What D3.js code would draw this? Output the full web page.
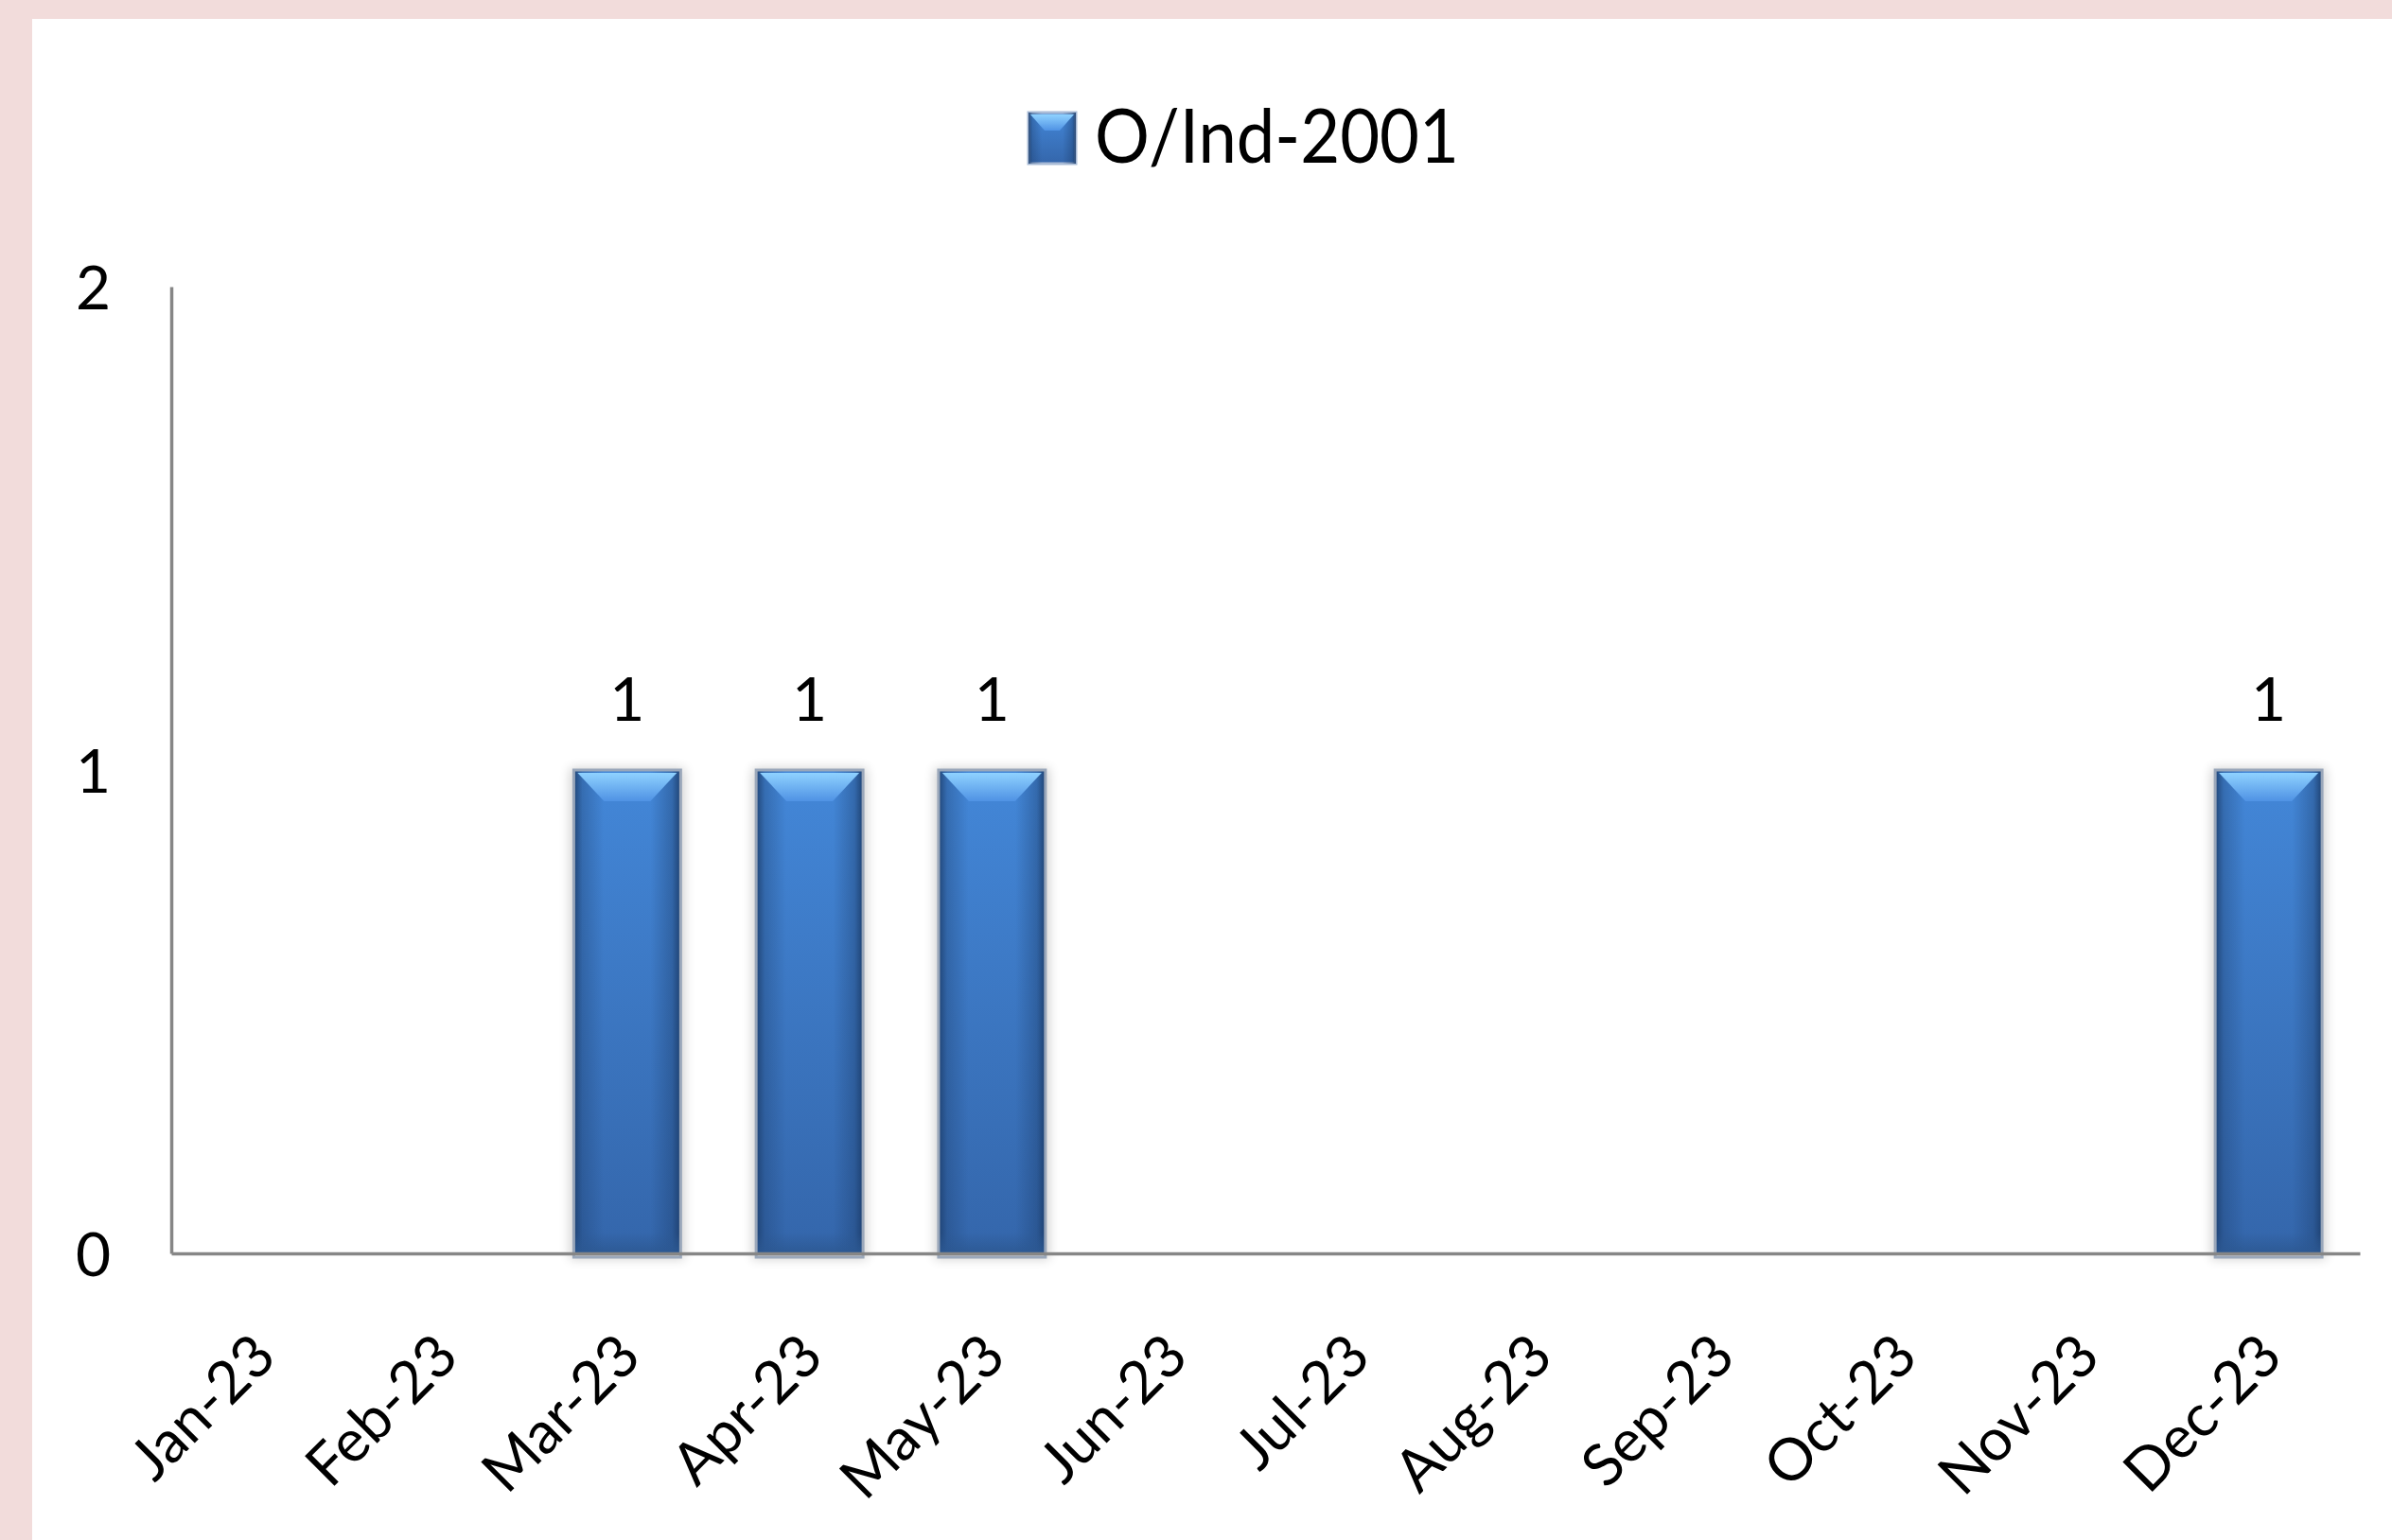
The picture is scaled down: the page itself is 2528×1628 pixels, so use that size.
<!DOCTYPE html>
<html lang="en">
<head>
<meta charset="UTF-8">
<title>O/Ind-2001</title>
<script src="https://d3js.org/d3.v7.min.js"></script>
<style>
    body { margin: 0; background: #f2dcdb; }
    #chart_area { position: absolute; left: 0; top: 0; }
    text { font-family: Lato, "Open Sans", sans-serif; fill: #000; }
</style>
</head>
<body>
<div id="chart_area"></div>
<script>
    // chart data
    const months = ["Jan-23","Feb-23","Mar-23","Apr-23","May-23","Jun-23","Jul-23","Aug-23","Sep-23","Oct-23","Nov-23","Dec-23"];
    const counts = [0, 0, 1, 1, 1, 0, 0, 0, 0, 0, 0, 1];
    const yTicks = [0, 1, 2];
    const seriesName = "O/Ind-2001";

    const W = 2528, H = 1628;
    const plotL = 181, plotR = 2494, plotT = 303, plotB = 1325;

    const data = months.map(function(m, i) { return {month: m, value: counts[i]}; });

    var svg = d3.select("#chart_area").append("svg")
        .attr("width", W).attr("height", H);

    var defs = svg.append("defs");

    var g1 = defs.append("linearGradient").attr("id", "bodyV").attr("x1", 0).attr("y1", 0).attr("x2", 0).attr("y2", 1);
    g1.append("stop").attr("offset", "0%").attr("stop-color", "#4387d8");
    g1.append("stop").attr("offset", "100%").attr("stop-color", "#3466ab");

    var g2 = defs.append("linearGradient").attr("id", "edgeH").attr("x1", 0).attr("y1", 0).attr("x2", 1).attr("y2", 0);
    g2.append("stop").attr("offset", "0%").attr("stop-color", "#1d3f6e").attr("stop-opacity", 0.9);
    g2.append("stop").attr("offset", "8%").attr("stop-color", "#1d3f6e").attr("stop-opacity", 0.35);
    g2.append("stop").attr("offset", "28%").attr("stop-color", "#1d3f6e").attr("stop-opacity", 0);
    g2.append("stop").attr("offset", "72%").attr("stop-color", "#1d3f6e").attr("stop-opacity", 0);
    g2.append("stop").attr("offset", "92%").attr("stop-color", "#1d3f6e").attr("stop-opacity", 0.4);
    g2.append("stop").attr("offset", "100%").attr("stop-color", "#1d3f6e").attr("stop-opacity", 0.95);

    var g3 = defs.append("linearGradient").attr("id", "bevel").attr("x1", 0).attr("y1", 0).attr("x2", 0).attr("y2", 1);
    g3.append("stop").attr("offset", "0%").attr("stop-color", "#8fd2ff");
    g3.append("stop").attr("offset", "100%").attr("stop-color", "#4f92e4");

    var g4 = defs.append("linearGradient").attr("id", "foot").attr("x1", 0).attr("y1", 0).attr("x2", 0).attr("y2", 1);
    g4.append("stop").attr("offset", "0%").attr("stop-color", "#2c5892").attr("stop-opacity", 0);
    g4.append("stop").attr("offset", "100%").attr("stop-color", "#2c5892").attr("stop-opacity", 0.9);

    var blur = defs.append("filter").attr("id", "shadow")
        .attr("x", "-30%").attr("y", "-10%").attr("width", "160%").attr("height", "120%");
    blur.append("feGaussianBlur").attr("stdDeviation", 6);

    // white chart panel
    svg.append("rect").attr("x", 34).attr("y", 20).attr("width", W - 34).attr("height", H - 20).attr("fill", "#ffffff");

    var x = d3.scaleBand().domain(months).range([plotL, plotR]).paddingInner(0.414).paddingOuter(0.207);
    var y = d3.scaleLinear().domain([0, 2]).range([plotB, plotT]);

    // y axis
    var yAxis = svg.append("g").attr("transform", "translate(" + plotL + ",0)")
        .call(d3.axisLeft(y).tickValues(yTicks).tickFormat(d3.format("d")).tickSize(0).tickPadding(64));
    yAxis.select(".domain").attr("stroke", "#868686").attr("stroke-width", 3.5);
    yAxis.selectAll("text").style("font-size", "64px").attr("dy", "0.36em");

    // bars
    var barData = data.filter(function(d) { return d.value > 0; });
    var bars = svg.append("g").selectAll("g").data(barData).enter().append("g");

    bars.append("rect")
        .attr("x", function(d) { return x(d.month) - 4; })
        .attr("y", function(d) { return y(d.value) - 2; })
        .attr("width", x.bandwidth() + 8)
        .attr("height", function(d) { return y(0) - y(d.value) + 8; })
        .attr("fill", "#000").attr("opacity", 0.18)
        .attr("filter", "url(#shadow)");

    bars.append("rect")
        .attr("x", function(d) { return x(d.month); })
        .attr("y", function(d) { return y(d.value); })
        .attr("width", x.bandwidth())
        .attr("height", function(d) { return y(0) - y(d.value); })
        .attr("fill", "url(#bodyV)");

    bars.append("rect")
        .attr("x", function(d) { return x(d.month); })
        .attr("y", function(d) { return y(d.value); })
        .attr("width", x.bandwidth())
        .attr("height", function(d) { return y(0) - y(d.value); })
        .attr("fill", "url(#edgeH)");

    bars.append("rect")
        .attr("x", function(d) { return x(d.month); })
        .attr("y", function(d) { return y(0) - 22; })
        .attr("width", x.bandwidth())
        .attr("height", 22)
        .attr("fill", "url(#foot)");

    bars.append("polygon")
        .attr("points", function(d) {
            var x0 = x(d.month) + 4, x1 = x(d.month) + x.bandwidth() - 4, t = y(d.value) + 3;
            return [[x0, t], [x1, t], [x1 - 28, t + 30], [x0 + 28, t + 30]].map(function(p) { return p.join(","); }).join(" ");
        })
        .attr("fill", "url(#bevel)");

    bars.append("rect")
        .attr("x", function(d) { return x(d.month); })
        .attr("y", function(d) { return y(d.value); })
        .attr("width", x.bandwidth())
        .attr("height", function(d) { return y(0) - y(d.value) + 4; })
        .attr("fill", "none").attr("stroke", "#9aa7ba").attr("stroke-width", 3);

    // data labels
    svg.append("g").selectAll("text").data(barData).enter().append("text")
        .attr("x", function(d) { return x(d.month) + x.bandwidth() / 2; })
        .attr("y", function(d) { return y(d.value) - 52; })
        .attr("text-anchor", "middle")
        .style("font-size", "64px")
        .text(function(d) { return d.value; });

    // x axis
    var xAxis = svg.append("g").attr("transform", "translate(0," + plotB + ")")
        .call(d3.axisBottom(x).tickSize(0).tickSizeOuter(0));
    xAxis.select(".domain").attr("stroke", "#868686").attr("stroke-width", 3.5);
    xAxis.selectAll("text")
        .attr("x", 0).attr("y", 0).attr("dy", 0)
        .attr("text-anchor", "end")
        .attr("transform", "translate(17,112) rotate(-45)")
        .style("font-size", "62px");

    // legend
    var legend = svg.append("g");
    legend.append("rect").attr("x", 1087).attr("y", 119).attr("width", 50).attr("height", 54)
        .attr("fill", "url(#bodyV)").attr("stroke", "#a9bbd6").attr("stroke-width", 3);
    legend.append("rect").attr("x", 1087).attr("y", 119).attr("width", 50).attr("height", 54)
        .attr("fill", "url(#edgeH)");
    legend.append("polygon").attr("points", "1089,121 1135,121 1120,138 1104,138").attr("fill", "url(#bevel)");
    legend.append("text").attr("x", 1157).attr("y", 172)
        .style("font-size", "80px")
        .attr("textLength", 385).attr("lengthAdjust", "spacingAndGlyphs")
        .text(seriesName);
</script>
</body>
</html>
